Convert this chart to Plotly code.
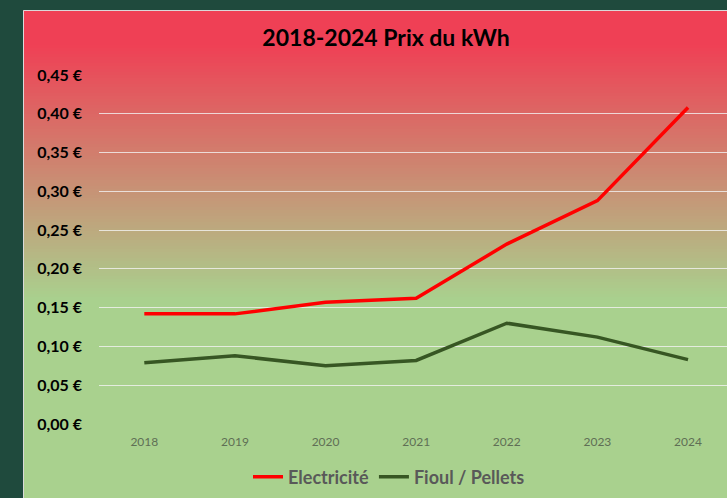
import plotly.graph_objects as go

# Price per kWh, 2018-2024
years = ["2018", "2019", "2020", "2021", "2022", "2023", "2024"]
electricite = [0.142, 0.142, 0.157, 0.162, 0.232, 0.288, 0.408]
fioul_pellets = [0.079, 0.088, 0.075, 0.082, 0.130, 0.112, 0.083]

y_tick_values = [0.00, 0.05, 0.10, 0.15, 0.20, 0.25, 0.30, 0.35, 0.40, 0.45]
y_tick_labels = ["0,00 €", "0,05 €", "0,10 €", "0,15 €", "0,20 €",
                 "0,25 €", "0,30 €", "0,35 €", "0,40 €", "0,45 €"]

W, H = 727, 498
M_L, M_R, M_T, M_B = 99, 0, 75, 74
PLOT_W = W - M_L - M_R
PLOT_H = H - M_T - M_B


def px_x(x):
    """Pixel column -> paper x."""
    return (x - M_L) / PLOT_W


def px_y(y):
    """Pixel row (from top) -> paper y."""
    return (H - M_B - y) / PLOT_H


# Vertical red-to-green background of the chart area, built from thin bands
RED = (239, 64, 85)
GREEN = (169, 209, 142)
TOP, G0, G1, BOTTOM = 10, 45, 300, H
LEFT = 23


def mix(t):
    t = max(0.0, min(1.0, t))
    return "rgb(%d,%d,%d)" % tuple(round(a + (b - a) * t) for a, b in zip(RED, GREEN))


shapes = []
edges = [TOP, G0] + list(range(G0 + 3, G1, 3)) + [G1, BOTTOM]
for y0, y1 in zip(edges[:-1], edges[1:]):
    t = ((y0 + y1) / 2 - G0) / (G1 - G0)
    shapes.append(dict(
        type="rect", xref="paper", yref="paper", layer="below",
        x0=px_x(LEFT), x1=px_x(W + 2), y0=px_y(y1 + 0.6), y1=px_y(y0),
        fillcolor=mix(t), line=dict(width=0),
    ))
# light border of the chart area
shapes.append(dict(
    type="rect", xref="paper", yref="paper", layer="below",
    x0=px_x(LEFT + 0.5), x1=px_x(W + 5), y0=px_y(BOTTOM + 5), y1=px_y(TOP + 0.5),
    fillcolor="rgba(0,0,0,0)", line=dict(color="#d9d9d9", width=1),
))

fig = go.Figure()
fig.add_trace(go.Scatter(
    x=years, y=electricite, name="Electricité", mode="lines",
    line=dict(color="#ff0000", width=3.5),
))
fig.add_trace(go.Scatter(
    x=years, y=fioul_pellets, name="Fioul / Pellets", mode="lines",
    line=dict(color="#375623", width=3.5),
))

fig.update_layout(
    width=W, height=H,
    margin=dict(l=M_L, r=M_R, t=M_T, b=M_B, pad=0),
    paper_bgcolor="#1f4a3d",
    plot_bgcolor="rgba(0,0,0,0)",
    shapes=shapes,
    font=dict(family="Lato, sans-serif"),
    title=dict(
        text="<b>2018-2024 Prix du kWh</b>",
        font=dict(size=23, color="#000000", family="Lato, sans-serif"),
        x=386 / W, xref="container", xanchor="center",
        y=1 - 38 / H, yref="container", yanchor="middle",
    ),
    showlegend=True,
    legend=dict(
        orientation="h",
        x=389 / W, xref="container", xanchor="center",
        y=1 - 477 / H, yref="container", yanchor="middle",
        bgcolor="rgba(0,0,0,0)",
        font=dict(size=18, color="#595959", family="Lato, sans-serif", weight="bold"),
        itemwidth=30,
    ),
    xaxis=dict(
        type="category",
        range=[-0.5, 6.43],
        showgrid=False, zeroline=False, showline=False,
        ticks="", ticklabelstandoff=9,
        tickfont=dict(size=12, color="#5f6f55"),
        fixedrange=True,
    ),
    yaxis=dict(
        range=[0, 0.45],
        tickvals=y_tick_values, ticktext=y_tick_labels,
        showgrid=True, gridcolor="rgba(242,242,242,0.8)", gridwidth=1,
        zeroline=False, showline=False,
        ticks="", ticklabelstandoff=16,
        tickfont=dict(size=16, color="#000000", weight="bold"),
        fixedrange=True,
    ),
)

fig.write_html("out.html")
